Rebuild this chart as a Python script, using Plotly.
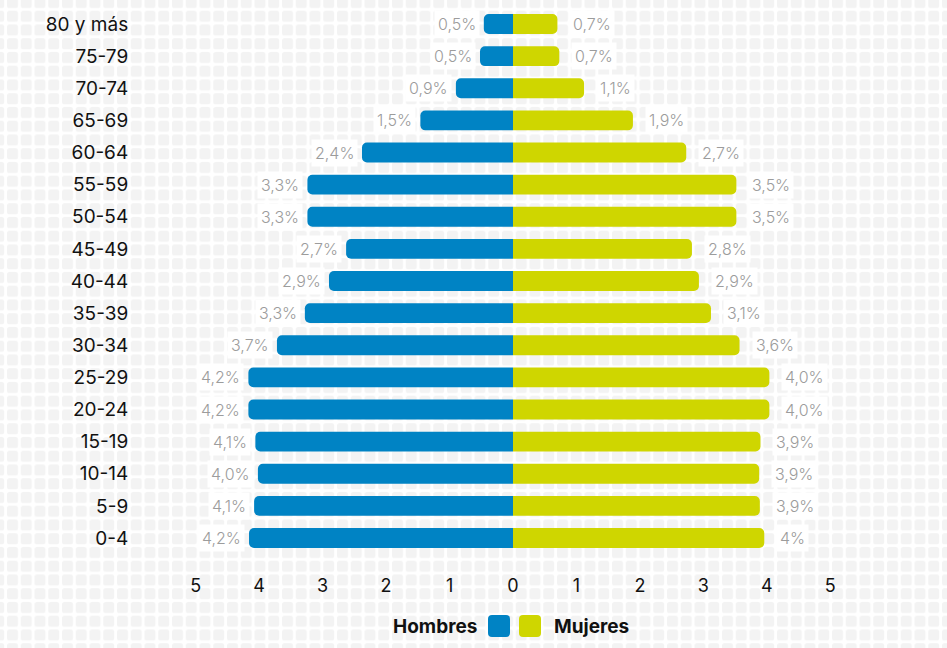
import base64
import plotly.graph_objects as go

# ---------------- data (bottom to top) ----------------
age_groups = ["0-4", "5-9", "10-14", "15-19", "20-24", "25-29", "30-34", "35-39",
              "40-44", "45-49", "50-54", "55-59", "60-64", "65-69", "70-74",
              "75-79", "80 y más"]
hombres = [4.16, 4.08, 4.02, 4.06, 4.17, 4.17, 3.72, 3.28, 2.90, 2.63, 3.24, 3.24,
           2.38, 1.46, 0.90, 0.52, 0.46]
mujeres = [3.96, 3.89, 3.88, 3.90, 4.04, 4.04, 3.57, 3.12, 2.93, 2.82, 3.52, 3.52,
           2.73, 1.89, 1.12, 0.73, 0.70]
hombres_labels = ["4,2%", "4,1%", "4,0%", "4,1%", "4,2%", "4,2%", "3,7%", "3,3%", "2,9%",
                  "2,7%", "3,3%", "3,3%", "2,4%", "1,5%", "0,9%", "0,5%", "0,5%"]
mujeres_labels = ["4%", "3,9%", "3,9%", "3,9%", "4,0%", "4,0%", "3,6%", "3,1%", "2,9%",
                  "2,8%", "3,5%", "3,5%", "2,7%", "1,9%", "1,1%", "0,7%", "0,7%"]
x_ticks = [-5, -4, -3, -2, -1, 0, 1, 2, 3, 4, 5]
x_tick_text = ["5", "4", "3", "2", "1", "0", "1", "2", "3", "4", "5"]

BLUE = "#0083C4"
GREEN = "#CFD600"
FONT = "Inter, Roboto, 'DejaVu Sans', sans-serif"

W_FIG, H_FIG = 947, 648
ML, MR, MT, MB = 164, 85, 9, 83
PW = W_FIG - ML - MR
PH = H_FIG - MT - MB

ypos = list(range(len(age_groups)))

fig = go.Figure()
fig.add_trace(go.Bar(y=ypos, x=[-v for v in hombres], orientation="h", name="Hombres",
                     marker=dict(color=BLUE, line=dict(width=0)), width=0.62,
                     hoverinfo="skip", showlegend=False))
fig.add_trace(go.Bar(y=ypos, x=mujeres, orientation="h", name="Mujeres",
                     marker=dict(color=GREEN, line=dict(width=0)), width=0.62,
                     hoverinfo="skip", showlegend=False))

LABEL_FONT = dict(family=FONT, size=16, color="#9c9c9c", weight=300)
annotations = []
for i, (h, m, hl, ml) in enumerate(zip(hombres, mujeres, hombres_labels, mujeres_labels)):
    annotations.append(dict(x=-h, y=i, xref="x", yref="y", text=hl, showarrow=False,
                            xanchor="right", yanchor="middle", xshift=-4,
                            bgcolor="white", borderpad=3, font=LABEL_FONT))
    annotations.append(dict(x=m, y=i, xref="x", yref="y", text=ml, showarrow=False,
                            xanchor="left", yanchor="middle", xshift=12,
                            bgcolor="white", borderpad=3, font=LABEL_FONT))

# legend (custom, text - swatch - swatch - text)
leg_y = -(626 - (MT + PH)) / PH
annotations.append(dict(x=0, y=leg_y, xref="x", yref="paper", text="<b>Hombres</b>",
                        showarrow=False, xanchor="right", yanchor="middle", xshift=-34,
                        font=dict(family=FONT, size=19, color="#111111")))
annotations.append(dict(x=0, y=leg_y, xref="x", yref="paper", text="<b>Mujeres</b>",
                        showarrow=False, xanchor="left", yanchor="middle", xshift=39,
                        font=dict(family=FONT, size=19, color="#111111")))


def rrect(x0, x1, y0, y1, r):
    return (f"M{x0+r},{y0} H{x1-r} Q{x1},{y0} {x1},{y0+r} V{y1-r} Q{x1},{y1} {x1-r},{y1} "
            f"H{x0+r} Q{x0},{y1} {x0},{y1-r} V{y0+r} Q{x0},{y0} {x0+r},{y0} Z")


shapes = [
    dict(type="path", xref="x", yref="paper", xsizemode="pixel", ysizemode="pixel",
         xanchor=0, yanchor=leg_y, path=rrect(-25, -3, -11, 11, 4),
         fillcolor=BLUE, line=dict(width=0)),
    dict(type="path", xref="x", yref="paper", xsizemode="pixel", ysizemode="pixel",
         xanchor=0, yanchor=leg_y, path=rrect(6, 28, -11, 11, 4),
         fillcolor=GREEN, line=dict(width=0)),
]

# tiled background
svg = (f'<svg xmlns="http://www.w3.org/2000/svg" width="{W_FIG}" height="{H_FIG}" '
       f'viewBox="0 0 {W_FIG} {H_FIG}" preserveAspectRatio="none">'
       f'<defs><pattern id="p" patternUnits="userSpaceOnUse" x="7" y="10.7" '
       f'width="13.75" height="13.75"><rect x="0" y="0" width="11" height="11" rx="2.5" '
       f'fill="#f3f3f3"/></pattern></defs>'
       f'<rect width="{W_FIG}" height="{H_FIG}" fill="white"/>'
       f'<rect width="{W_FIG}" height="{H_FIG}" fill="url(#p)"/></svg>')
src = "data:image/svg+xml;base64," + base64.b64encode(svg.encode()).decode()
images = [dict(source=src, xref="paper", yref="paper", x=-ML / PW, y=1 + MT / PH,
               sizex=W_FIG / PW, sizey=H_FIG / PH, xanchor="left", yanchor="top",
               sizing="stretch", layer="below")]

fig.update_layout(
    width=W_FIG, height=H_FIG,
    margin=dict(l=ML, r=MR, t=MT, b=MB),
    paper_bgcolor="white", plot_bgcolor="rgba(0,0,0,0)",
    barmode="overlay", barcornerradius=5,
    showlegend=False,
    annotations=annotations, shapes=shapes, images=images,
    font=dict(family=FONT, color="#111111"),
    xaxis=dict(range=[-5.5, 5.5], tickvals=x_ticks, ticktext=x_tick_text,
               showgrid=False, zeroline=False, showline=False,
               ticks="outside", ticklen=4, tickcolor="rgba(0,0,0,0)",
               tickfont=dict(family=FONT, size=18, color="#111111"),
               fixedrange=True),
    yaxis=dict(range=[-0.8405, 16.467], tickvals=ypos, ticktext=age_groups,
               showgrid=False, zeroline=False, showline=False,
               ticks="outside", ticklen=31, tickcolor="rgba(0,0,0,0)",
               tickfont=dict(family=FONT, size=19, color="#111111"), fixedrange=True),
)

fig.write_html("out.html", config=dict(displayModeBar=False),
               post_script="document.body.style.margin='0px';"
                           "document.body.style.overflow='hidden';")
